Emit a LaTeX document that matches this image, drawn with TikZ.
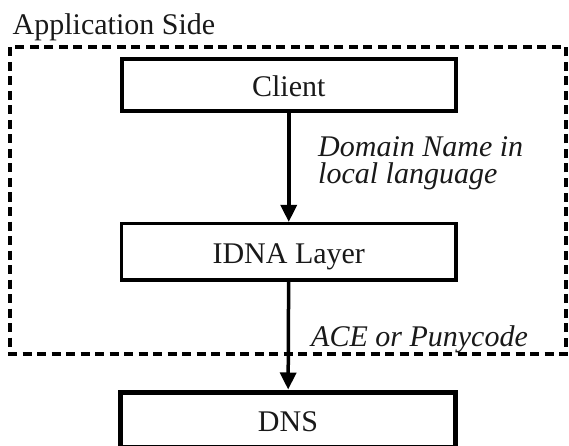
\documentclass[tikz,border=0pt]{standalone}
\usepackage{fontspec}
\setmainfont{Liberation Serif}
\usetikzlibrary{arrows.meta}
\definecolor{ink}{rgb}{0.1,0.1,0.1}
\tikzset{
  txt/.style={font=\fontsize{30pt}{26.5pt}\selectfont, text=ink, inner sep=0pt},
  itxt/.style={txt, font=\fontsize{30pt}{26.5pt}\selectfont\itshape},
  layerbox/.style={draw=black, line width=#1, inner sep=0pt, minimum width=334.5pt,
    text height=23pt, text depth=0pt, txt},
  arr/.style={draw=black, line width=3.5pt, -{Triangle[width=16pt,length=17pt]}},
  sidebox/.style={draw=black, line width=4pt, dash pattern=on 9pt off 5.5pt},
}
\begin{document}
\begin{tikzpicture}[x=1pt,y=-1pt]
\useasboundingbox (0,0) rectangle (569,446);
\draw[sidebox] (10,47.5) rectangle (566,354);
\node[txt, anchor=base west] (side) at (12.5,35) {Application Side};
\node[layerbox=4pt, minimum height=52.5pt] (client) at (288.75,84.8) {Client};
\node[layerbox=3.5pt, minimum height=56.3pt] (idna) at (288.75,251.8) {IDNA Layer};
\node[layerbox=5pt, minimum height=55pt] (dns) at (288,419.5) {DNS};
\draw[arr] (client) -- (idna);
\draw[arr] (idna) -- (dns);
\node[itxt, align=left, anchor=base west] (lbl1) at (318,183) {Domain Name in\\local language};
\node[itxt, anchor=base west] (lbl2) at (311,346) {ACE or Punycode};
\end{tikzpicture}
\end{document}
